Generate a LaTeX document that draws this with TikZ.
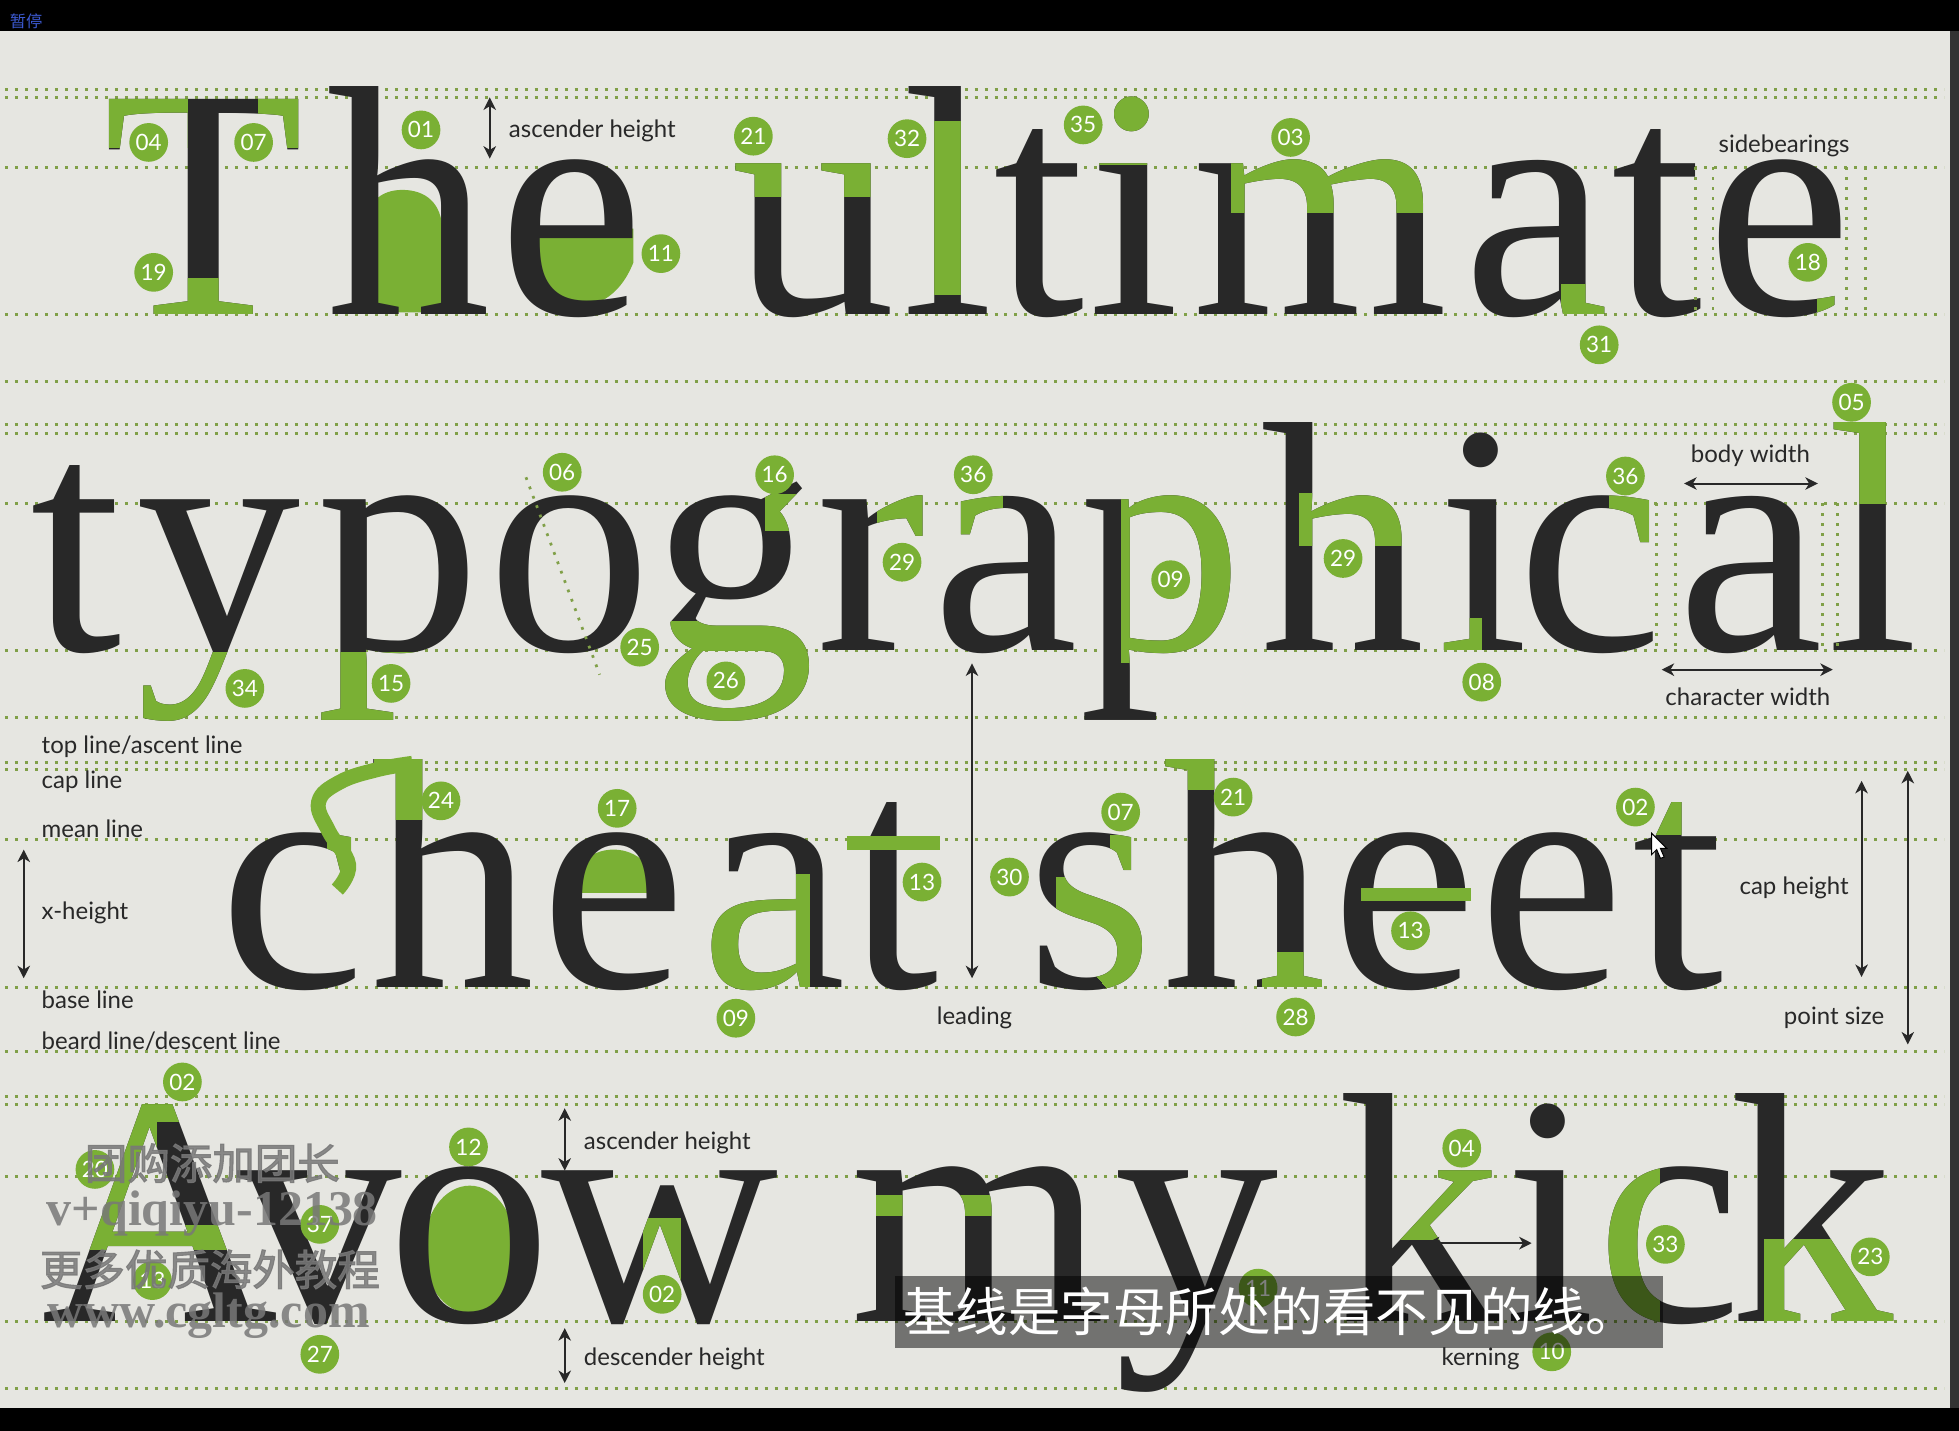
\documentclass[tikz,border=0pt]{standalone}
\usepackage{fontspec}
\setmainfont{Liberation Serif}
\newfontfamily\lab{Lato}
\newfontfamily\cjk{Noto Sans CJK SC}
\newfontfamily\cjkb{Noto Sans CJK SC}[FakeBold=2.5]
\usetikzlibrary{arrows.meta}
\definecolor{bgc}{RGB}{230,230,225}
\definecolor{ink}{RGB}{40,40,40}
\definecolor{lgreen}{RGB}{122,176,52}
\definecolor{dotg}{RGB}{128,160,72}
\definecolor{wmc}{RGB}{120,120,120}
\definecolor{pauseblue}{RGB}{60,90,210}
\newcommand\ltr[4]{\node[glyph] (#1) at (#2,#3) {#4};}
\newcommand\grlt[5]{\begin{scope}\clip #5;\node[glyph,text=lgreen] (#1) at (#2,#3) {#4};\end{scope}}
\tikzset{
 glyph/.style={inner sep=0pt, outer sep=0pt, anchor=base, text=ink, font=\fontsize{131.5}{131.5}\selectfont},
 dotline/.style={dotg, line width=1.2pt, dash pattern=on 1.2pt off 2.8pt},
 vdot/.style={dotg, line width=1.1pt, dash pattern=on 1.1pt off 2.9pt},
 num/.style={circle, fill=lgreen, text=white, minimum size=15.5pt, inner sep=0pt, font=\lab\fontsize{9}{9}\selectfont},
 lbl/.style={inner sep=0pt, text=ink, font=\lab\fontsize{9.6}{9.6}\selectfont},
 dbl/.style={{Stealth[length=5pt,width=5pt,inset=1.5pt]}-{Stealth[length=5pt,width=5pt,inset=1.5pt]}, line width=0.8pt, draw=ink},
 wmtext/.style={inner sep=0pt, text=wmc, text opacity=0.85},
}
\begin{document}
\begin{tikzpicture}[x=0.5pt,y=-0.5pt]
\useasboundingbox (0,0) rectangle (1568,1145);
% background and frame
\fill[bgc] (0,0) rectangle (1568,1145);
\fill[black] (0,0) rectangle (1568,25);
\fill[black] (0,1127) rectangle (1568,1145);
\fill[black!80] (1561,25) rectangle (1568,1127);
% guide lines
\foreach \yy [count=\i] in {71.5,78,134,252,305,340,347,403,521,574,610,616,672,790,842,878,884,942,1058,1111}
  {\draw[dotline] (4,\yy) coordinate (dl\i a) -- (1556,\yy) coordinate (dl\i b);}
% ---------- green fills behind letters ----------
\fill[lgreen] (292,250) -- (292,185) .. controls (292,162) and (305,152) .. (322,152) .. controls (340,152) and (354,162) .. (354,185) -- (354,250) -- cycle;
\fill[lgreen] (414,183) -- (507,183) -- (507,210) .. controls (495,240) and (475,246) .. (457,246) .. controls (430,246) and (414,225) .. (414,200) -- cycle;
\begin{scope}\clip (440,650) rectangle (540,714); \fill[lgreen] (491,714) ellipse [x radius=35, y radius=34]; \end{scope}
\fill[lgreen] (376,1000) ellipse [x radius=37, y radius=51];
% ---------- row 1 ----------
\ltr{r1a}{163}{252}{T}
\ltr{r1b}{327}{252}{h}
\ltr{r1c}{457}{252}{e}
\ltr{r1d}{651}{252}{u}
\ltr{r1e}{759}{252}{l}
\ltr{r1f}{832}{252}{t}
\ltr{r1g}{908}{252}{i}
\ltr{r1h}{1057}{252}{m}
\ltr{r1i}{1230}{252}{a}
\ltr{r1j}{1326}{252}{t}
\ltr{r1k}{1424}{252}{e}
\grlt{g1a}{163}{252}{T}{(60,70) rectangle (150,118) (206,70) rectangle (260,118) (100,222) rectangle (230,262)}
\grlt{g1d}{651}{252}{u}{(570,125) rectangle (740,157)}
\grlt{g1e}{759}{252}{l}{(720,97) rectangle (800,236)}
\grlt{g1g}{908}{252}{i}{(860,60) rectangle (960,132)}
\grlt{g1h}{1057}{252}{m}{(986,120) rectangle (1175,170)}
\grlt{g1i}{1230}{252}{a}{(1250,228) rectangle (1300,262)}
\grlt{g1k}{1424}{252}{e}{(1455,210) rectangle (1490,262)}
% ---------- row 2 ----------
\ltr{r2a}{61}{521}{t}
\ltr{r2b}{175}{521}{y}
\ltr{r2c}{319}{521}{p}
\ltr{r2d}{456}{521}{o}
\ltr{r2e}{587}{521}{g}
\ltr{r2f}{697}{521}{r}
\ltr{r2g}{805}{521}{a}
\ltr{r2h}{930}{521}{p}
\ltr{r2i}{1075}{521}{h}
\ltr{r2j}{1187}{521}{i}
\ltr{r2k}{1273}{521}{c}
\ltr{r2l}{1401}{521}{a}
\ltr{r2m}{1499}{521}{l}
\grlt{g2b}{175}{521}{y}{(90,522) rectangle (260,590)}
\grlt{g2c}{319}{521}{p}{(230,522) rectangle (400,590)}
\grlt{g2e}{587}{521}{g}{(520,497) rectangle (660,590) (612,395) rectangle (660,425)}
\grlt{g2f}{697}{521}{r}{(702,395) rectangle (750,462)}
\grlt{g2g}{805}{521}{a}{(745,395) rectangle (802,447)}
\grlt{g2h}{930}{521}{p}{(898,395) rectangle (1010,530)}
\grlt{g2i}{1075}{521}{h}{(1040,395) rectangle (1150,437)}
\grlt{g2j}{1187}{521}{i}{(1150,495) rectangle (1186,530)}
\grlt{g2k}{1273}{521}{c}{(1288,395) rectangle (1340,447)}
\grlt{g2m}{1499}{521}{l}{(1460,330) rectangle (1540,403)}
% ---------- row 3 ----------
\ltr{r3a}{234}{790}{c}
\ltr{r3b}{362}{790}{h}
\ltr{r3c}{491}{790}{e}
\ltr{r3d}{619}{790}{a}
\ltr{r3e}{715}{790}{t}
\ltr{r3f}{873}{790}{s}
\ltr{r3g}{996}{790}{h}
\ltr{r3h}{1124}{790}{e}
\ltr{r3i}{1242}{790}{e}
\ltr{r3j}{1343}{790}{t}
\grlt{g3a}{234}{790}{c}{(262,660) rectangle (300,720)}
\draw[lgreen, line width=6pt] plot[smooth, tension=0.7] coordinates {(270,712) (279,692) (263,665) (255,642) (272,626) (302,616) (330,611)};
\grlt{g3b}{362}{790}{h}{(300,600) rectangle (345,656)}
\grlt{g3d}{619}{790}{a}{(540,700) rectangle (648,800)}
\fill[lgreen] (678,669) rectangle (752,680);
\grlt{g3f}{873}{790}{s}{(845,702) -- (925,702) -- (925,790) -- (885,790) -- (845,745) -- cycle (888,668) rectangle (925,702)}
\grlt{g3g}{996}{790}{h}{(920,600) rectangle (975,632) (1010,762) rectangle (1075,800)}
\fill[lgreen] (1089,711) rectangle (1177,721);
\grlt{g3j}{1343}{790}{t}{(1300,630) rectangle (1360,668)}
% ---------- row 4 ----------
\ltr{r4a}{128}{1058}{A}
\ltr{r4b}{256}{1058}{v}
\ltr{r4c}{376}{1058}{o}
\ltr{r4d}{528}{1058}{w}
\ltr{r4e}{783}{1058}{m}
\ltr{r4f}{958}{1058}{y}
\ltr{r4g}{1136}{1058}{k}
\ltr{r4h}{1241}{1058}{i}
\ltr{r4i}{1336}{1058}{c}
\ltr{r4j}{1450}{1058}{k}
\grlt{g4a}{128}{1058}{A}{(40,870) rectangle (125,980) (100,870) rectangle (150,898) (70,980) rectangle (185,1000)}
\grlt{g4d}{528}{1058}{w}{(515,975) rectangle (545,1025)}
\grlt{g4e}{783}{1058}{m}{(700,957) rectangle (820,973)}
\grlt{g4g}{1136}{1058}{k}{(1118,935) rectangle (1200,992)}
\grlt{g4i}{1336}{1058}{c}{(1270,930) rectangle (1328,1070)}
\grlt{g4j}{1450}{1058}{k}{(1412,992) rectangle (1520,1065)}
% ---------- construction dotted lines ----------
\foreach \xx in {1357,1371,1478,1493} {\draw[vdot] (\xx,134) -- (\xx,252);}
\foreach \xx in {1326,1341,1459,1471} {\draw[vdot] (\xx,403) -- (\xx,521);}
\draw[vdot] (421,382) -- (480,540);
% ---------- labels and arrows ----------
\node[lbl, anchor=west] (L1) at (407,105) {ascender height};
\coordinate (a1t) at (392,78); \coordinate (a1b) at (392,127);
\draw[dbl] (a1t) -- (a1b);
\node[lbl] (L2) at (1428,117) {sidebearings};
\node[lbl] (L3) at (1401,365) {body width};
\coordinate (a3l) at (1348,387); \coordinate (a3r) at (1455,387);
\draw[dbl] (a3l) -- (a3r);
\node[lbl] (L4) at (1399,558) {character width};
\coordinate (a4l) at (1330,536); \coordinate (a4r) at (1467,536);
\draw[dbl] (a4l) -- (a4r);
\node[lbl, anchor=west] (L5) at (33,598) {top line/ascent line};
\node[lbl, anchor=west] (L6) at (33,626) {cap line};
\node[lbl, anchor=west] (L7) at (33,663) {mean line};
\node[lbl, anchor=west] (L8) at (33,731) {x-height};
\node[lbl, anchor=west] (L9) at (33,800) {base line};
\node[lbl, anchor=west] (L10) at (33,833) {beard line/descent line};
\coordinate (a8t) at (19,680); \coordinate (a8b) at (19,783);
\draw[dbl] (a8t) -- (a8b);
\node[lbl] (L11) at (780,815) {leading};
\coordinate (a11t) at (778,531); \coordinate (a11b) at (778,783);
\draw[dbl] (a11t) -- (a11b);
\node[lbl] (L12) at (1436,711) {cap height};
\coordinate (a12t) at (1490,625); \coordinate (a12b) at (1490,782);
\draw[dbl] (a12t) -- (a12b);
\node[lbl] (L13) at (1468,815) {point size};
\coordinate (a13t) at (1527,617); \coordinate (a13b) at (1527,836);
\draw[dbl] (a13t) -- (a13b);
\node[lbl, anchor=west] (L14) at (467,915) {ascender height};
\coordinate (a14t) at (452,887); \coordinate (a14b) at (452,937);
\draw[dbl] (a14t) -- (a14b);
\node[lbl, anchor=west] (L15) at (467,1088) {descender height};
\coordinate (a15t) at (452,1063); \coordinate (a15b) at (452,1107);
\draw[dbl] (a15t) -- (a15b);
\node[lbl] (L16) at (1185,1088) {kerning};
\coordinate (a16l) at (1142,995); \coordinate (a16r) at (1226,995);
\draw[dbl] (a16l) -- (a16r);
% ---------- numbered circles ----------
\foreach \nm/\xx/\yy/\tx in {
 c1/119/114/04, c2/203/114/07, c3/337/104/01, c4/123/218/19, c5/529/203/11, c6/603/109/21, c7/726/111/32, c8/867/100/35, c9/1033/110/03, c10/1447/210/18, c11/1280/276/31,
 c12/450/378/06, c13/620/380/16, c14/779/380/36, c15/722/450/29, c16/512/518/25, c17/581/545/26, c18/196/551/34, c19/313/547/15, c20/937/464/09, c21/1075/447/29, c22/1301/381/36, c23/1186/546/08, c24/1482/322/05,
 c25/353/641/24, c26/494/647/17, c27/738/706/13, c28/808/702/30, c29/897/650/07, c30/987/638/21, c31/1309/646/02, c32/1129/745/13, c33/589/815/09, c34/1037/814/28,
 c35/146/866/02, c36/76/936/20, c37/375/918/12, c38/256/980/37, c39/122/1025/13, c40/530/1036/02, c41/256/1084/27, c42/1170/919/04, c43/1333/996/33, c44/1497/1006/23, c45/1007/1031/11, c46/1242/1082/10}
 {\node[num] (\nm) at (\xx,\yy) {\tx};}
% ---------- cursor ----------
\filldraw[fill=white, draw=black, line width=0.4pt] (1322,667) -- (1322,684) -- (1326,680) -- (1329,687) -- (1332,686) -- (1329,679) -- (1334,679) -- cycle;
% ---------- subtitle ----------
\fill[black, opacity=0.5] (716,1021) rectangle (1331,1079);
\node[inner sep=0pt, text=white, font=\cjk\fontsize{21}{21}\selectfont] (sub) at (1017,1050) {基线是字母所处的看不见的线。};
% ---------- watermark ----------
\node[wmtext, font=\cjkb\fontsize{17}{17}\selectfont] (wm1) at (170,931) {团购添加团长};
\node[wmtext, font=\bfseries\fontsize{20}{20}\selectfont] (wm2) at (170,971) {v+qiqiyu-12138};
\node[wmtext, font=\cjkb\fontsize{17}{17}\selectfont] (wm3) at (168,1016) {更多优质海外教程};
\node[wmtext, font=\bfseries\fontsize{20}{20}\selectfont] (wm4) at (167,1053) {www.cgltg.com};
% ---------- top bar text ----------
\node[inner sep=0pt, text=pauseblue, font=\cjk\fontsize{6.5}{6.5}\selectfont] (pause) at (21,17) {暂停};
\end{tikzpicture}
\end{document}
